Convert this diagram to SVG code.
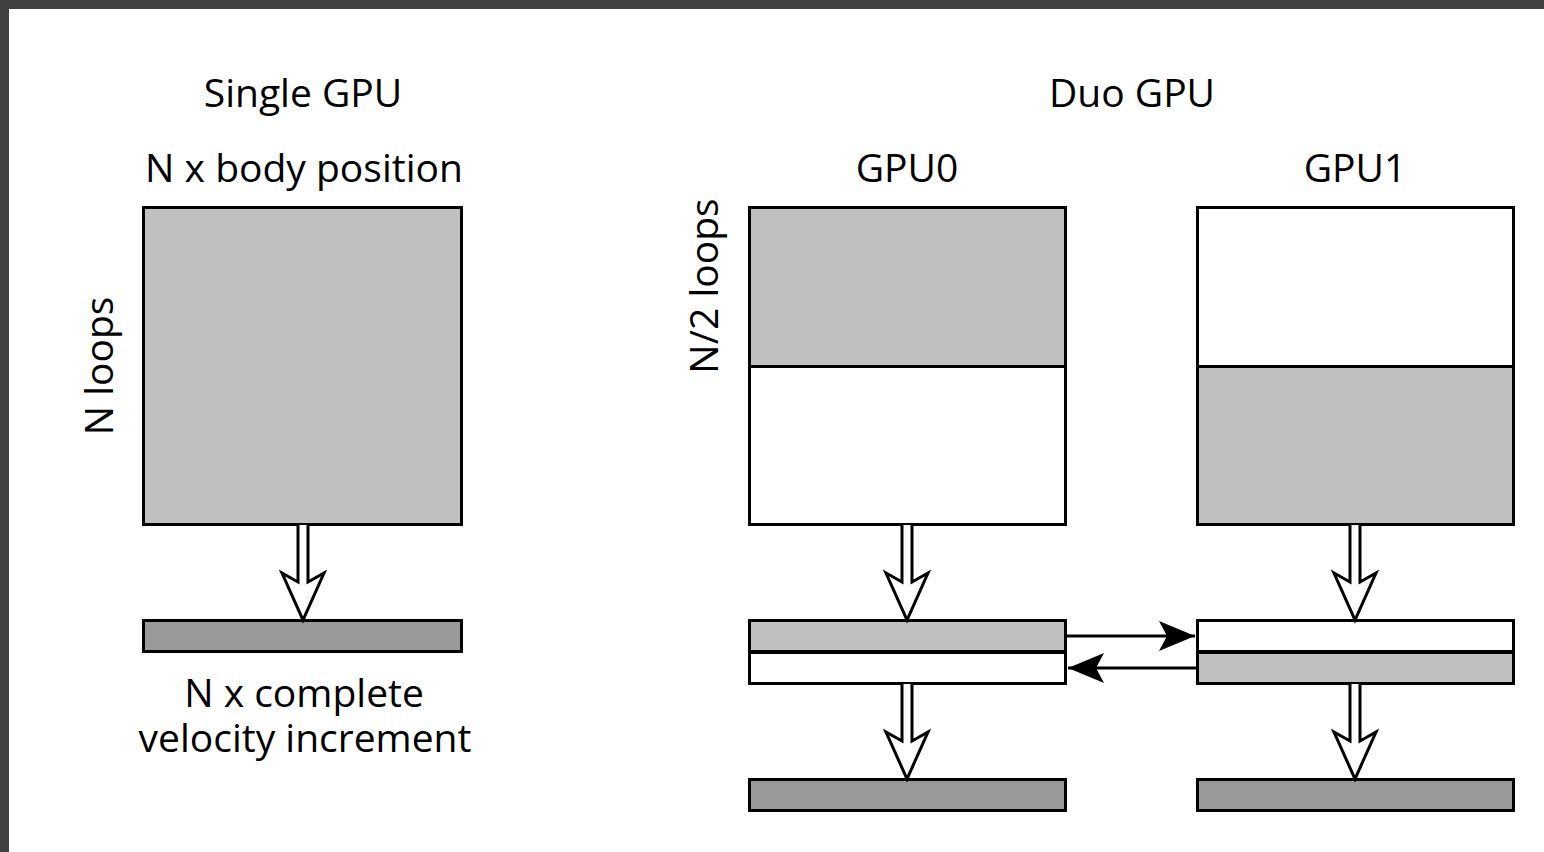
<svg xmlns="http://www.w3.org/2000/svg" width="1544" height="852" viewBox="0 0 1544 852">
  <style>
    .box { stroke: #000; stroke-width: 3; }
    .light { fill: #c0c0c0; }
    .white { fill: #ffffff; }
    .dark { fill: #999999; }
    .label { font-family: "Open Sans", "Noto Sans", sans-serif; font-size: 39px; fill: #000; text-anchor: middle; }
    .hollow { fill: #fff; stroke: #000; stroke-width: 3; stroke-linejoin: miter; }
    .link { stroke: #000; stroke-width: 3; fill: none; }
  </style>
  <defs>
    <!-- hollow block arrow, tip at origin, pointing down -->
    <path id="hollow-arrow" d="M-5,-95 L-5,-38 L-21,-47 L0,0 L21,-47 L5,-38 L5,-95"/>
    <marker id="head" markerUnits="userSpaceOnUse" markerWidth="40" markerHeight="34" viewBox="-36 -17 40 34" refX="0" refY="0" orient="auto">
      <path d="M0,0 L-36,-15 L-28,0 L-36,15 Z" fill="#000"/>
    </marker>
  </defs>

  <!-- frame -->
  <rect x="0" y="0" width="1544" height="852" fill="#ffffff"/>
  <rect x="0" y="0" width="1544" height="9" fill="#404040"/>
  <rect x="0" y="0" width="9" height="852" fill="#404040"/>

  <!-- Single GPU -->
  <g id="single-title">
    <text class="label" x="303" y="107">Single GPU</text>
    <text class="label" x="304" y="182">N x body position</text>
  </g>
  <g id="single-loops">
    <text class="label" transform="translate(113,366) rotate(-90)">N loops</text>
  </g>
  <g id="single-block">
    <rect class="box light" x="143.5" y="207.5" width="318" height="317"/>
  </g>
  <g id="single-result">
    <rect class="box dark" x="143.5" y="620.5" width="318" height="31"/>
    <text class="label" x="304" y="707">N x complete</text>
    <text class="label" x="305" y="752">velocity increment</text>
  </g>

  <!-- Duo GPU -->
  <g id="duo-title">
    <text class="label" x="1132" y="107">Duo GPU</text>
    <text class="label" x="907" y="182">GPU0</text>
    <text class="label" x="1355" y="182">GPU1</text>
  </g>
  <g id="duo-loops">
    <text class="label" transform="translate(718,286) rotate(-90)">N/2 loops</text>
  </g>
  <g id="gpu0-block">
    <rect class="box light" x="749.5" y="207.5" width="316" height="159"/>
    <rect class="box white" x="749.5" y="366.5" width="316" height="158"/>
  </g>
  <g id="gpu1-block">
    <rect class="box white" x="1197.5" y="207.5" width="316" height="159"/>
    <rect class="box light" x="1197.5" y="366.5" width="316" height="158"/>
  </g>
  <g id="gpu0-partial">
    <rect class="box light" x="749.5" y="620.5" width="316" height="31"/>
    <rect class="box white" x="749.5" y="652.5" width="316" height="31"/>
  </g>
  <g id="gpu1-partial">
    <rect class="box white" x="1197.5" y="620.5" width="316" height="31"/>
    <rect class="box light" x="1197.5" y="652.5" width="316" height="31"/>
  </g>
  <g id="gpu0-result">
    <rect class="box dark" x="749.5" y="779.5" width="316" height="31"/>
  </g>
  <g id="gpu1-result">
    <rect class="box dark" x="1197.5" y="779.5" width="316" height="31"/>
  </g>

  <!-- connectors -->
  <g id="connectors">
    <use href="#hollow-arrow" class="hollow" transform="translate(303,620)"/>
    <use href="#hollow-arrow" class="hollow" transform="translate(907,620)"/>
    <use href="#hollow-arrow" class="hollow" transform="translate(1355,620)"/>
    <use href="#hollow-arrow" class="hollow" transform="translate(907,779)"/>
    <use href="#hollow-arrow" class="hollow" transform="translate(1355,779)"/>
    <line class="link" x1="1066" y1="636" x2="1195" y2="636" marker-end="url(#head)"/>
    <line class="link" x1="1197" y1="668" x2="1068" y2="668" marker-end="url(#head)"/>
  </g>
</svg>
